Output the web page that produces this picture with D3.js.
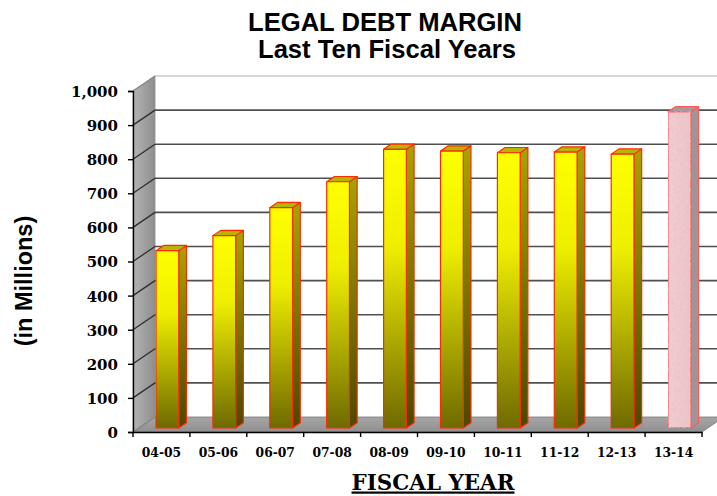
<!DOCTYPE html>
<html>
<head>
<meta charset="utf-8">
<script src="https://cdn.jsdelivr.net/npm/d3@7"></script>
<style>
  html, body { margin: 0; padding: 0; background: #fff; }
  svg { display: block; }
</style>
</head>
<body>
<svg id="chart" width="717" height="496"></svg>
<script>
// Legal debt margin, in millions, by fiscal year
const years = ["04-05", "05-06", "06-07", "07-08", "08-09", "09-10", "10-11", "11-12", "12-13", "13-14"];
const margin = [520, 564, 646, 722, 817, 812, 807, 809, 803, 927];
const yTicks = [0, 100, 200, 300, 400, 500, 600, 700, 800, 900, 1000];
const titleLines = ["LEGAL DEBT MARGIN", "Last Ten Fiscal Years"];
const yTitle = "(in Millions)";
const xTitle = "FISCAL YEAR";

(function draw() {
const svg = d3.select("#chart");
const defs = svg.append("defs");

// plot frame (front plane) and 3-D depth offset
const plotL = 133, plotR = 702, plotB = 432, plotT = 91;
const depthX = 22, depthY = -15;
const barFront = 0.27, barBack = 0.62;

const x = d3.scaleBand().domain(years).range([plotL, plotR]).paddingInner(0.6).paddingOuter(0.3);
const xb = d3.scaleBand().domain(years).range([plotL, plotR]);
const y = d3.scaleLinear().domain([0, 1000]).range([plotB, plotT]);

const sh = d => [depthX * d, depthY * d];
const pts = arr => arr.map(p => p.join(",")).join(" ");

// gradients
function linGrad(id, stops, x1 = 0, y1 = 0, x2 = 0, y2 = 1) {
  const g = defs.append("linearGradient").attr("id", id)
    .attr("x1", x1).attr("y1", y1).attr("x2", x2).attr("y2", y2);
  stops.forEach(([o, c]) => g.append("stop").attr("offset", o).attr("stop-color", c));
}
linGrad("wallGrad", [[0, "#b4b4b4"], [1, "#8e8e8e"]], 0, 0, 1, 0);
linGrad("floorGrad", [[0, "#a6a6a6"], [1, "#8f8f8f"]]);
linGrad("frontGrad", [[0, "#ffff00"], [0.35, "#eeee00"], [1, "#6f6a00"]]);
linGrad("sideGrad", [[0, "#a8a400"], [1, "#4b4800"]]);
linGrad("pinkGrad", [[0, "#f4cdd1"], [1, "#efc4c8"]], 0, 0, 1, 0);

// speckled texture for the final bar
const f = defs.append("filter").attr("id", "speckle").attr("x", 0).attr("y", 0).attr("width", 1).attr("height", 1);
f.append("feTurbulence").attr("type", "fractalNoise").attr("baseFrequency", 0.35).attr("numOctaves", 2).attr("seed", 4).attr("result", "n");
f.append("feColorMatrix").attr("in", "n").attr("type", "matrix")
  .attr("values", "0 0 0 0 0.75  0 0 0 0 0.55  0 0 0 0 0.58  0 0 0 -1.6 1.0").attr("result", "spots");
f.append("feComposite").attr("in", "spots").attr("in2", "SourceGraphic").attr("operator", "in").attr("result", "sp");
f.append("feMerge").call(m => { m.append("feMergeNode").attr("in", "SourceGraphic"); m.append("feMergeNode").attr("in", "sp"); });

// left side wall
svg.append("polygon")
  .attr("points", pts([[plotL, plotT], [plotL + depthX, plotT + depthY], [plotL + depthX, plotB + depthY], [plotL, plotB]]))
  .attr("fill", "url(#wallGrad)").attr("stroke", "#8a8a8a").attr("stroke-width", 0.8);

// floor
svg.append("polygon")
  .attr("points", pts([[plotL, plotB], [plotL + depthX, plotB + depthY], [plotR + depthX, plotB + depthY], [plotR, plotB]]))
  .attr("fill", "url(#floorGrad)").attr("stroke", "#7a7a7a").attr("stroke-width", 0.8);

// gridlines: back wall and across the side wall
const grid = svg.append("g");
yTicks.forEach(t => {
  const yy = y(t);
  if (t > 0) {
    grid.append("line")
      .attr("x1", plotL + depthX).attr("x2", plotR + depthX + 40)
      .attr("y1", yy + depthY).attr("y2", yy + depthY)
      .attr("stroke", t === 1000 ? "#a8a8a8" : "#3c3c3c")
      .attr("stroke-width", t === 1000 ? 1 : 1.6).attr("stroke-opacity", 0.9);
  }
  grid.append("line")
    .attr("x1", plotL).attr("y1", yy)
    .attr("x2", plotL + depthX).attr("y2", yy + depthY)
    .attr("stroke", t === 0 || t === 1000 ? "#888" : "#2e2e2e").attr("stroke-width", 1.3);
});

// bars
const bw = x.bandwidth();
const [fx, fy] = sh(barFront);
const [bx, by] = sh(barBack);
const bars = svg.append("g");
years.forEach((yr, i) => {
  const last = i === years.length - 1;
  const x0 = x(yr) + fx, x1 = x0 + bw;
  const yTop = y(margin[i]) + fy, yBot = y(0) + fy;
  const dx = bx - fx, dy = by - fy;
  const stroke = last ? "#ff5a5a" : "#ff2a00";
  const g = bars.append("g").attr("stroke", stroke).attr("stroke-width", 1.2).attr("stroke-linejoin", "round");
  // side face
  g.append("polygon")
    .attr("points", pts([[x1, yTop], [x1 + dx, yTop + dy], [x1 + dx, yBot + dy], [x1, yBot]]))
    .attr("fill", last ? "#a09496" : "url(#sideGrad)");
  // top face
  g.append("polygon")
    .attr("points", pts([[x0, yTop], [x0 + dx, yTop + dy], [x1 + dx, yTop + dy], [x1, yTop]]))
    .attr("fill", last ? "#a89a9c" : "#b8b400");
  // front face
  g.append("rect")
    .attr("x", x0).attr("y", yTop).attr("width", bw).attr("height", yBot - yTop)
    .attr("fill", last ? "url(#pinkGrad)" : "url(#frontGrad)")
    .attr("filter", last ? "url(#speckle)" : null);
});

// y axis
const yAxis = svg.append("g").attr("transform", `translate(${plotL},0)`)
  .call(d3.axisLeft(y).tickValues(yTicks).tickSize(5).tickPadding(10).tickFormat(d3.format(",")));
yAxis.select(".domain").attr("stroke", "#000").attr("stroke-width", 1.4);
yAxis.selectAll(".tick line").attr("stroke", "#000").attr("stroke-width", 1.4);
yAxis.selectAll(".tick text")
  .attr("font-family", "'DejaVu Serif', serif").attr("font-weight", "bold")
  .attr("font-size", 15).attr("fill", "#000").attr("dy", "0.36em");

// x axis
const xAxis = svg.append("g").attr("transform", `translate(0,${plotB})`)
  .call(d3.axisBottom(xb).tickSize(0).tickPadding(16));
xAxis.select(".domain").attr("stroke", "#000").attr("stroke-width", 1.4);
xAxis.selectAll(".tick text")
  .attr("font-family", "'DejaVu Serif', serif").attr("font-weight", "bold")
  .attr("font-size", 12.3).attr("fill", "#000");
// category boundary ticks
svg.append("g").selectAll("line").data(years.concat(["end"])).join("line")
  .attr("x1", (d, i) => i < years.length ? xb(d) : plotR)
  .attr("x2", (d, i) => i < years.length ? xb(d) : plotR)
  .attr("y1", plotB).attr("y2", plotB + 5)
  .attr("stroke", "#000").attr("stroke-width", 1.4);

// titles
const title = svg.append("text").attr("text-anchor", "middle")
  .attr("font-family", "'Liberation Sans', Arial, sans-serif").attr("font-weight", "bold")
  .attr("font-size", 25.6).attr("fill", "#000");
title.append("tspan").attr("x", 385).attr("y", 30.5).text(titleLines[0]);
title.append("tspan").attr("x", 387).attr("y", 58).text(titleLines[1]);

svg.append("text")
  .attr("transform", "translate(32,281) rotate(-90)")
  .attr("text-anchor", "middle")
  .attr("font-family", "'Liberation Sans', Arial, sans-serif").attr("font-weight", "bold")
  .attr("font-size", 23.5).attr("fill", "#000")
  .text(yTitle);

svg.append("text")
  .attr("x", 433).attr("y", 489.5).attr("text-anchor", "middle")
  .attr("font-family", "'DejaVu Serif', serif").attr("font-weight", "bold")
  .attr("font-size", 22).attr("fill", "#000")
  .attr("text-decoration", "underline")
  .attr("textLength", 163).attr("lengthAdjust", "spacingAndGlyphs")
  .text(xTitle);
})();
</script>
</body>
</html>
